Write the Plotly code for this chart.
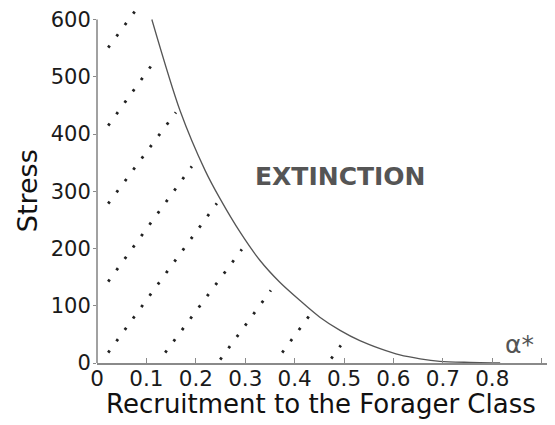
import math
import plotly.graph_objects as go

# Boundary curve (stress threshold vs recruitment)
curve_x = [0.111, 0.168, 0.219, 0.249, 0.290, 0.330, 0.370, 0.411, 0.451, 0.492,
           0.532, 0.573, 0.613, 0.654, 0.694, 0.755, 0.800, 0.816]
curve_y = [600, 441, 336, 287, 228, 179, 141, 109, 80, 57,
           39, 25, 14, 7.3, 3, 1, 0, 0]

# Dotted hatch lines (first dot / last dot)
hatch_x0 = [0.0243, 0.0243, 0.0243, 0.0243, 0.0243, 0.1397, 0.2510, 0.3765, 0.4757]
hatch_y0 = [552.8, 416.6, 280.3, 144.1, 20.1, 20.1, 7.9, 20.1, 9.6]
hatch_x1 = [0.0749, 0.1073, 0.1579, 0.1903, 0.2409, 0.2915, 0.3502, 0.4271, 0.4919]
hatch_y1 = [612.2, 516.2, 435.8, 341.5, 276.9, 196.5, 124.9, 79.5, 28.8]

x_tickvals = [0, 0.1, 0.2, 0.3, 0.4, 0.5, 0.6, 0.7, 0.8, 0.9]
x_ticktext = ["0", "0.1", "0.2", "0.3", "0.4", "0.5", "0.6", "0.7", "0.8", ""]
y_tickvals = [0, 100, 200, 300, 400, 500, 600]
y_ticktext = ["0", "100", "200", "300", "400", "500", "600"]

X_TITLE = "Recruitment to the Forager Class"
Y_TITLE = "Stress"

FONT = "DejaVu Sans"
AXIS_COLOR = "#8a8a8a"

# plot geometry
M_L, M_R, M_T, M_B = 89, 8, 0, 70
W, H = 555, 425
X_RANGE = [0, 0.927]
PLOT_W = W - M_L - M_R
PLOT_H = H - M_T - M_B
Y_RANGE = [0, PLOT_H / 0.5725]
PX_X = PLOT_W / (X_RANGE[1] - X_RANGE[0])
PX_Y = PLOT_H / (Y_RANGE[1] - Y_RANGE[0])
DOT = 2.6  # dot length in px

fig = go.Figure()

for x0, y0, x1, y1 in zip(hatch_x0, hatch_y0, hatch_x1, hatch_y1):
    L = math.hypot((x1 - x0) * PX_X, (y1 - y0) * PX_Y)
    e = (DOT / 2 + 0.1) / L
    fig.add_trace(go.Scatter(
        x=[x0 - (x1 - x0) * e, x1 + (x1 - x0) * e],
        y=[y0 - (y1 - y0) * e, y1 + (y1 - y0) * e],
        mode="lines",
        line=dict(color="#222222", width=2.8, dash=f"{DOT}px,{14.06 - DOT:.2f}px"),
        hoverinfo="skip", showlegend=False,
    ))

fig.add_trace(go.Scatter(
    x=curve_x, y=curve_y, mode="lines",
    line=dict(color="#555555", width=1.3, shape="spline", smoothing=0.8),
    showlegend=False,
))

# y-axis line only up to 600
fig.add_shape(type="line", xref="paper", yref="y", x0=0, x1=0, y0=0, y1=600,
              line=dict(color=AXIS_COLOR, width=1.6))

fig.add_annotation(x=0.492, y=326, xref="x", yref="y", text="<b>EXTINCTION</b>",
                   showarrow=False, font=dict(family=FONT, size=25, color="#555555"))
fig.add_annotation(x=0.856, y=33, xref="x", yref="y", text="α*",
                   showarrow=False, font=dict(family=FONT, size=25, color="#555555"))

# axis titles
fig.add_annotation(x=0.49, y=0, xref="paper", yref="paper", yshift=-41,
                   text=X_TITLE, showarrow=False, yanchor="middle",
                   font=dict(family=FONT, size=26, color="#111111"))
fig.add_annotation(x=0, y=300, xref="paper", yref="y", xshift=-70,
                   text=Y_TITLE, showarrow=False, textangle=-90,
                   xanchor="center", yanchor="middle",
                   font=dict(family=FONT, size=27, color="#111111"))

fig.update_layout(
    width=W, height=H,
    margin=dict(l=M_L, r=M_R, t=M_T, b=M_B),
    plot_bgcolor="white", paper_bgcolor="white",
    font=dict(family=FONT, color="#1a1a1a"),
    showlegend=False,
    xaxis=dict(
        range=X_RANGE, tickvals=x_tickvals, ticktext=x_ticktext,
        ticks="inside", ticklen=5, tickwidth=1.2, tickcolor=AXIS_COLOR,
        showline=True, linecolor=AXIS_COLOR, linewidth=1.6,
        showgrid=False, zeroline=False, ticklabelstandoff=-5,
        ticklabeloverflow="allow",
        tickfont=dict(family=FONT, size=21.5, color="#1a1a1a"),
    ),
    yaxis=dict(
        range=Y_RANGE, tickvals=y_tickvals, ticktext=y_ticktext,
        ticks="outside", ticklen=3, tickwidth=1.2, tickcolor=AXIS_COLOR,
        showline=False, showgrid=False, zeroline=False, ticklabelstandoff=-2,
        ticklabeloverflow="allow",
        tickfont=dict(family=FONT, size=21, color="#1a1a1a"),
    ),
)

fig.write_html("out.html")
